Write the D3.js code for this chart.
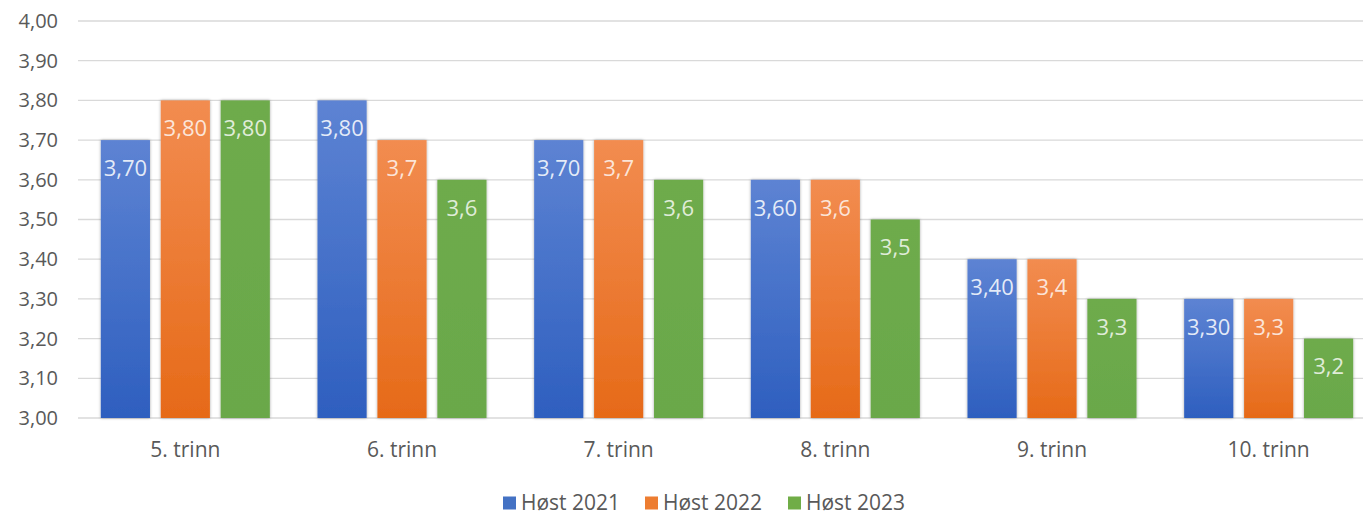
<!DOCTYPE html>
<html><head><meta charset="utf-8">
<script src="https://cdn.jsdelivr.net/npm/d3@7"></script>
<style>body{margin:0;background:#fff}svg{display:block}</style>
</head><body>
<script>
const categories = ["5. trinn","6. trinn","7. trinn","8. trinn","9. trinn","10. trinn"];
const seriesNames = ["Høst 2021","Høst 2022","Høst 2023"];
const host2021 = [3.70,3.80,3.70,3.60,3.40,3.30];
const host2022 = [3.80,3.70,3.70,3.60,3.40,3.30];
const host2023 = [3.80,3.60,3.60,3.50,3.30,3.20];
const labels2021 = ["3,70","3,80","3,70","3,60","3,40","3,30"];
const labels2022 = ["3,80","3,7","3,7","3,6","3,4","3,3"];
const labels2023 = ["3,80","3,6","3,6","3,5","3,3","3,2"];
const yTicks = [3.0,3.1,3.2,3.3,3.4,3.5,3.6,3.7,3.8,3.9,4.0];

const series = [
  {name:seriesNames[0], values:host2021, labels:labels2021, top:"#5d83d3", bottom:"#2e5fbf", legend:"#4472c4", text:"rgba(255,255,255,0.85)"},
  {name:seriesNames[1], values:host2022, labels:labels2022, top:"#f28c50", bottom:"#e66a18", legend:"#ed7d31", text:"rgba(255,255,255,0.8)"},
  {name:seriesNames[2], values:host2023, labels:labels2023, top:"#6eab4c", bottom:"#6aa84a", legend:"#70ad47", text:"rgba(255,255,255,0.8)"}
];

const W=1363,H=515;
const svg=d3.select("body").append("svg").attr("width",W).attr("height",H);
const defs=svg.append("defs");
series.forEach((s,i)=>{
  const g=defs.append("linearGradient").attr("id","g"+i).attr("x1",0).attr("x2",0).attr("y1",0).attr("y2",1);
  g.append("stop").attr("offset","0%").attr("stop-color",s.top);
  g.append("stop").attr("offset","100%").attr("stop-color",s.bottom);
});
const f=defs.append("filter").attr("id","sh").attr("x","-20%").attr("y","-20%").attr("width","140%").attr("height","140%");
f.append("feDropShadow").attr("dx",0).attr("dy",0).attr("stdDeviation",1.6).attr("flood-color","#000").attr("flood-opacity",0.35);

const font="'Open Sans', 'Noto Sans', sans-serif";
const x0=d3.scaleBand().domain(categories).range([77,1377]).paddingInner(0.22).paddingOuter(0.11);
const x1=d3.scaleBand().domain(seriesNames).range([0,x0.bandwidth()]).paddingInner(0.18);
const y=d3.scaleLinear().domain([3.0,4.0]).range([418,21]);

const grid=svg.append("g");
grid.selectAll("line").data(yTicks).join("line")
  .attr("x1",78).attr("x2",1363).attr("y1",d=>y(d)).attr("y2",d=>y(d))
  .attr("stroke","#d9d9d9").attr("stroke-width",1.3);

const yAxis=d3.axisLeft(y).tickValues(yTicks).tickSize(0).tickPadding(0)
  .tickFormat(d=>d3.format(".2f")(d).replace(".",","));
const ya=svg.append("g").attr("transform","translate(58,0)").call(yAxis);
ya.select(".domain").remove();
ya.selectAll("text").attr("font-family",font).attr("font-size",20).attr("fill","#595959");

const groups=svg.append("g").selectAll("g").data(categories).join("g")
  .attr("transform",d=>`translate(${x0(d)},0)`);
series.forEach((s,si)=>{
  groups.append("rect")
    .attr("x",x1(s.name)).attr("width",x1.bandwidth())
    .attr("y",(d,i)=>y(s.values[i])).attr("height",(d,i)=>y(3.0)-y(s.values[i]))
    .attr("fill",`url(#g${si})`).attr("filter","url(#sh)");
  groups.append("text")
    .attr("x",x1(s.name)+x1.bandwidth()/2).attr("y",(d,i)=>y(s.values[i])+28)
    .attr("dy","0.35em").attr("text-anchor","middle")
    .attr("font-family",font).attr("font-size",22).attr("fill",s.text)
    .text((d,i)=>s.labels[i]);
});

const xAxis=d3.axisBottom(x0).tickSize(0).tickPadding(0);
const xa=svg.append("g").attr("transform","translate(0,442)").call(xAxis);
xa.select(".domain").remove();
xa.selectAll("text").attr("font-family",font).attr("font-size",21).attr("fill","#595959");

const legX=[503,645,788];
const leg=svg.append("g").selectAll("g").data(series).join("g")
  .attr("transform",(d,i)=>`translate(${legX[i]},503)`);
leg.append("rect").attr("x",0).attr("y",-6.5).attr("width",13).attr("height",13).attr("fill",d=>d.legend);
leg.append("text").attr("x",18).attr("y",0).attr("dy","0.35em")
  .attr("font-family",font).attr("font-size",21).attr("fill","#595959").text(d=>d.name);
</script>
</body></html>
